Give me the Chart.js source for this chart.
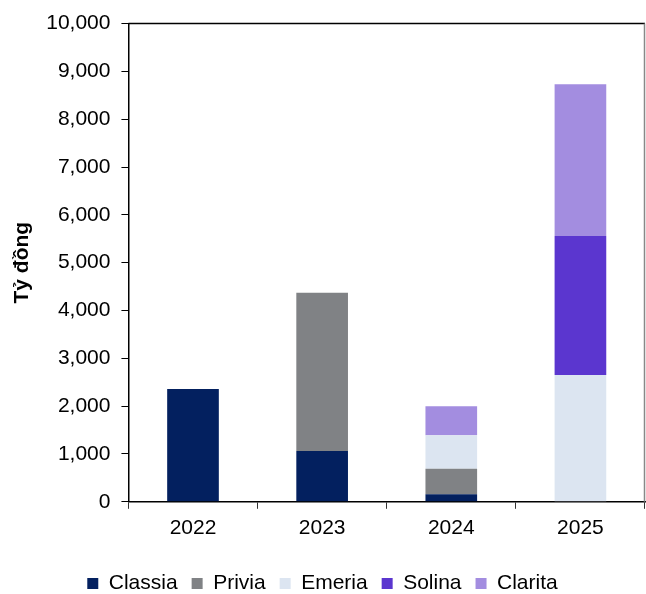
<!DOCTYPE html>
<html>
<head>
<meta charset="utf-8">
<script src="https://cdn.jsdelivr.net/npm/chart.js@4/dist/chart.umd.min.js"></script>
<style>
  html, body { margin: 0; padding: 0; background: #fff; }
  #wrap { width: 646px; height: 594px; }
</style>
</head>
<body>
<div id="wrap"><canvas id="chart" width="646" height="594"></canvas></div>
<script>
  /* data */
  var years = ["2022", "2023", "2024", "2025"];
  var classia = [2360, 1060, 160, 0];
  var privia = [0, 3310, 530, 0];
  var emeria = [0, 0, 700, 2650];
  var solina = [0, 0, 0, 2910];
  var clarita = [0, 0, 610, 3170];
  var yTicks = [0, 1000, 2000, 3000, 4000, 5000, 6000, 7000, 8000, 9000, 10000];

  var font = "'Liberation Sans', Arial, sans-serif";

  // box around the plot area (top + right edges)
  var frame = {
    id: "frame",
    afterDraw: function (chart) {
      var a = chart.chartArea, ctx = chart.ctx;
      ctx.save();
      ctx.lineWidth = 1.5;
      ctx.strokeStyle = "#000";
      ctx.beginPath();
      ctx.moveTo(a.left, a.top);
      ctx.lineTo(a.right, a.top);
      ctx.stroke();
      ctx.strokeStyle = "#888";
      ctx.beginPath();
      ctx.moveTo(a.right - 0.5, a.top);
      ctx.lineTo(a.right - 0.5, a.bottom);
      ctx.stroke();
      ctx.restore();
    }
  };

  function ds(label, data, color) {
    return {
      label: label,
      data: data,
      backgroundColor: color,
      borderWidth: 0,
      categoryPercentage: 1,
      barPercentage: 0.4
    };
  }

  new Chart("chart", {
    type: "bar",
    data: {
      labels: years,
      datasets: [
        ds("Classia", classia, "#03205f"),
        ds("Privia", privia, "#808285"),
        ds("Emeria", emeria, "#dce5f1"),
        ds("Solina", solina, "#5b36cf"),
        ds("Clarita", clarita, "#a38de0")
      ]
    },
    plugins: [frame],
    options: {
      responsive: false,
      animation: false,
      layout: { padding: { top: -4, right: 1, left: 0, bottom: -10 } },
      plugins: {
        tooltip: { enabled: false },
        legend: {
          position: "bottom",
          labels: {
            font: { family: font, size: 21 },
            color: "#000",
            boxWidth: 11,
            boxHeight: 11,
            padding: 14
          }
        }
      },
      scales: {
        x: {
          stacked: true,
          afterFit: function (axis) { axis.height += 11; },
          grid: { drawOnChartArea: false, drawTicks: true, tickLength: 7, color: "#333", offset: true },
          border: { color: "#000", width: 1.5 },
          ticks: { font: { family: font, size: 21 }, color: "#000", padding: 7 }
        },
        y: {
          stacked: true,
          min: 0,
          max: 10000,
          afterBuildTicks: function (axis) {
            axis.ticks = yTicks.map(function (v) { return { value: v }; });
          },
          grid: { drawOnChartArea: false, drawTicks: true, tickLength: 7, color: "#000" },
          border: { color: "#000", width: 1.5 },
          ticks: {
            font: { family: font, size: 21 },
            color: "#000",
            padding: 11,
            callback: function (v) { return v.toLocaleString("en-US"); }
          },
          title: {
            display: true,
            text: "Tỷ đồng",
            font: { family: font, size: 21, weight: "bold" },
            color: "#000",
            padding: { top: 10, bottom: 0 }
          }
        }
      }
    }
  });
</script>
</body>
</html>
